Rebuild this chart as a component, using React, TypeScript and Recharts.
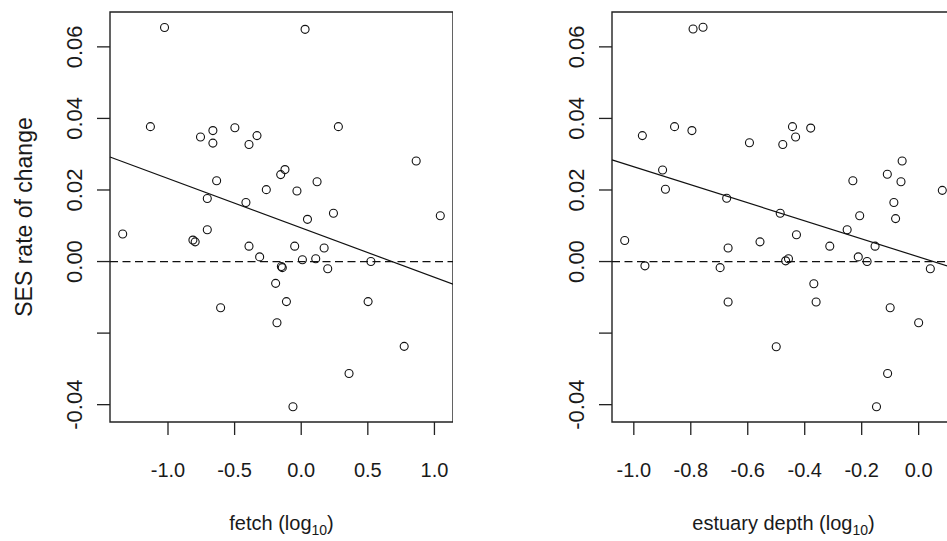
import { ScatterChart, Scatter, XAxis, YAxis, ReferenceLine, ReferenceArea } from 'recharts';

// left panel: fetch (log10) vs SES rate of change
const fetchX = [
  -1.026, 0.029, -1.132, 0.279, -0.756, -0.663, -0.663, -0.498, -0.332, -0.392, 0.863,
  -0.122, -0.154, -0.635, 0.119, -0.262, -0.032, -0.705, -0.415, 0.242, 0.047, 1.044,
  -1.34, -0.705, -0.813, -0.796, -0.392, -0.312, -0.049, 0.172, 0.009, 0.109, -0.149,
  -0.142, 0.199, 0.523, -0.192, -0.605, -0.111, 0.502, -0.182, 0.773, 0.359, -0.062,
];
const fetchRate = [
  0.0654, 0.0649, 0.0377, 0.0377, 0.0348, 0.0366, 0.0331, 0.0374, 0.0352, 0.0327, 0.0281,
  0.0257, 0.0243, 0.0226, 0.0223, 0.0201, 0.0197, 0.0176, 0.0165, 0.0135, 0.0118, 0.0128,
  0.0077, 0.0089, 0.006, 0.0055, 0.0043, 0.0013, 0.0043, 0.0038, 0.0005, 0.0008, -0.0014,
  -0.0017, -0.002, 0.0, -0.0061, -0.0129, -0.0112, -0.0112, -0.0171, -0.0237, -0.0313, -0.0406,
];

// right panel: estuary depth (log10) vs SES rate of change
const depthX = [
  -0.792, -0.757, -0.97, -0.857, -0.796, -0.594, -0.477, -0.443, -0.432, -0.379, -0.058,
  -0.11, -0.062, -0.231, -0.899, -0.889, 0.083, -0.674, -0.087, -0.486, -0.207, -0.081,
  -1.032, -0.961, -0.669, -0.697, -0.669, -0.557, -0.429, -0.467, -0.457, -0.5, -0.312,
  -0.251, -0.368, -0.36, -0.212, -0.181, -0.153, -0.1, 0.0, 0.041, -0.109, -0.148,
];
const depthRate = [
  0.065, 0.0655, 0.0352, 0.0377, 0.0366, 0.0332, 0.0327, 0.0377, 0.0348, 0.0373, 0.0281,
  0.0244, 0.0223, 0.0226, 0.0256, 0.0202, 0.0199, 0.0177, 0.0165, 0.0135, 0.0128, 0.012,
  0.0059, -0.0012, 0.0038, -0.0017, -0.0113, 0.0055, 0.0075, 0.0002, 0.0008, -0.0238, 0.0043,
  0.0089, -0.0062, -0.0113, 0.0013, 0.0, 0.0043, -0.0129, -0.0171, -0.002, -0.0313, -0.0406,
];

// fitted lines (intercept, slope)
const fetchFit = [0.0094, -0.0138];
const depthFit = [0.0013, -0.0252];

const yTicks = [-0.04, -0.02, 0, 0.02, 0.04, 0.06];
const yTickLabels = ['-0.04', '', '0.00', '0.02', '0.04', '0.06'];
const fetchTicks = [-1, -0.5, 0, 0.5, 1];
const fetchTickLabels = ['-1.0', '-0.5', '0.0', '0.5', '1.0'];
const depthTicks = [-1, -0.8, -0.6, -0.4, -0.2, 0];
const depthTickLabels = ['-1.0', '-0.8', '-0.6', '-0.4', '-0.2', '0.0'];

const FONT = '"Liberation Sans", Arial, sans-serif';
const INK = '#1a1a1a';
const LINE = '#222';

function padRange(v: number[]): [number, number] {
  const lo = Math.min(...v);
  const hi = Math.max(...v);
  const p = (hi - lo) * 0.04;
  return [lo - p, hi + p];
}

const yDomain = padRange([...fetchRate, ...depthRate]);

const OpenCircle = (props: any) => {
  const { cx, cy } = props;
  if (cx == null || cy == null) return null;
  return <circle cx={cx} cy={cy} r={4} fill="none" stroke="#111" strokeWidth={1.1} />;
};

const makeXTick = (labels: string[], ticks: number[]) => (props: any) => {
  const { x, y, payload } = props;
  const i = ticks.findIndex((t) => Math.abs(t - payload.value) < 1e-9);
  return (
    <text x={x} y={y + 42} textAnchor="middle" fontSize={20} fontFamily={FONT} fill={INK}>
      {i >= 0 ? labels[i] : ''}
    </text>
  );
};

const YTick = (props: any) => {
  const { x, y, payload } = props;
  const i = yTicks.findIndex((t) => Math.abs(t - payload.value) < 1e-9);
  const tx = x - 15;
  return (
    <text
      x={tx}
      y={y}
      transform={`rotate(-90 ${tx} ${y})`}
      textAnchor="middle"
      fontSize={22}
      fontFamily={FONT}
      fill={INK}
    >
      {i >= 0 ? yTickLabels[i] : ''}
    </text>
  );
};

interface PanelProps {
  xs: number[];
  rates: number[];
  fit: number[];
  ticks: number[];
  tickLabels: string[];
  title: string;
  yTitle?: string;
  left: number;
  width: number;
  axisWidth: number;
}

function Panel({ xs, rates, fit, ticks, tickLabels, title, yTitle, left, width, axisWidth }: PanelProps) {
  const data = xs.map((x, i) => ({ x, y: rates[i] }));
  const xDomain = padRange(xs);
  const [b0, b1] = fit;
  return (
    <div style={{ position: 'absolute', left, top: 0 }}>
      <ScatterChart width={width} height={541} margin={{ top: 12, right: 0, bottom: 0, left: 0 }}>
        <XAxis
          type="number"
          dataKey="x"
          domain={xDomain}
          allowDataOverflow
          ticks={ticks}
          interval={0}
          height={119}
          tickSize={13}
          tickMargin={0}
          axisLine={false}
          tickLine={{ stroke: LINE, strokeWidth: 1.3 }}
          tick={makeXTick(tickLabels, ticks)}
          label={{
            content: (p: any) => {
              const vb = p.viewBox;
              return (
                <text
                  x={vb.x + vb.width / 2}
                  y={vb.y + 108}
                  textAnchor="middle"
                  fontSize={20}
                  fontFamily={FONT}
                  fill={INK}
                >
                  {title}
                  <tspan dy={5} fontSize={14}>10</tspan>
                  <tspan dy={-5}>)</tspan>
                </text>
              );
            },
          }}
        />
        <YAxis
          type="number"
          dataKey="y"
          domain={yDomain}
          allowDataOverflow
          ticks={yTicks}
          interval={0}
          width={axisWidth}
          tickSize={13}
          tickMargin={0}
          axisLine={false}
          tickLine={{ stroke: LINE, strokeWidth: 1.3 }}
          tick={YTick}
          label={
            yTitle
              ? {
                  content: (p: any) => {
                    const vb = p.viewBox;
                    const cy = vb.y + vb.height / 2;
                    return (
                      <text
                        x={32}
                        y={cy}
                        transform={`rotate(-90 32 ${cy})`}
                        textAnchor="middle"
                        fontSize={23}
                        fontFamily={FONT}
                        fill={INK}
                      >
                        {yTitle}
                      </text>
                    );
                  },
                }
              : undefined
          }
        />
        <ReferenceLine y={0} stroke="#111" strokeWidth={1.3} strokeDasharray="8 4.5" />
        <ReferenceLine
          segment={[
            { x: xDomain[0], y: b0 + b1 * xDomain[0] },
            { x: xDomain[1], y: b0 + b1 * xDomain[1] },
          ]}
          stroke="#111"
          strokeWidth={1.2}
        />
        <Scatter data={data} shape={OpenCircle} isAnimationActive={false} />
        <ReferenceArea
          x1={xDomain[0]}
          x2={xDomain[1]}
          y1={yDomain[0]}
          y2={yDomain[1]}
          fill="none"
          fillOpacity={0}
          stroke={LINE}
          strokeWidth={1.4}
        />
      </ScatterChart>
    </div>
  );
}

export default function App() {
  return (
    <div
      style={{
        position: 'fixed',
        left: 0,
        top: 0,
        width: 947,
        height: 541,
        overflow: 'hidden',
        background: '#fff',
      }}
    >
      <Panel
        xs={fetchX}
        rates={fetchRate}
        fit={fetchFit}
        ticks={fetchTicks}
        tickLabels={fetchTickLabels}
        title="fetch (log"
        yTitle="SES rate of change"
        left={0}
        width={453}
        axisWidth={110}
      />
      <Panel
        xs={depthX}
        rates={depthRate}
        fit={depthFit}
        ticks={depthTicks}
        tickLabels={depthTickLabels}
        title="estuary depth (log"
        left={500}
        width={455}
        axisWidth={112}
      />
    </div>
  );
}
